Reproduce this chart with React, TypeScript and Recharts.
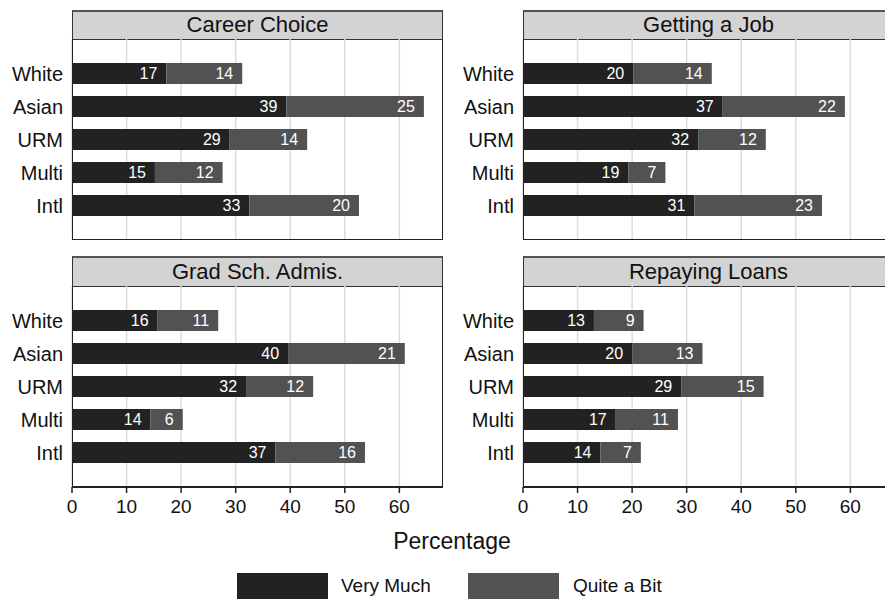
import React from 'react';
import { BarChart, Bar, XAxis, YAxis, CartesianGrid, LabelList } from 'recharts';

const groups = ['White', 'Asian', 'URM', 'Multi', 'Intl'];
const seriesNames = ['Very Much', 'Quite a Bit'];
const panelTitles = ['Career Choice', 'Getting a Job', 'Grad Sch. Admis.', 'Repaying Loans'];

const careerVeryMuch = [17.3, 39.3, 28.9, 15.2, 32.5];
const careerQuiteBit = [13.9, 25.2, 14.2, 12.4, 20.1];
const jobVeryMuch = [20.2, 36.6, 32.1, 19.3, 31.4];
const jobQuiteBit = [14.4, 22.4, 12.4, 6.8, 23.4];
const gradVeryMuch = [15.7, 39.6, 31.9, 14.4, 37.3];
const gradQuiteBit = [11.1, 21.4, 12.3, 5.9, 16.4];
const loansVeryMuch = [13.0, 20.0, 29.0, 17.0, 14.2];
const loansQuiteBit = [9.1, 12.9, 15.1, 11.4, 7.4];

const xTicks = [0, 10, 20, 30, 40, 50, 60];
const xDomain = [0, 68];
const axisTitle = 'Percentage';

const COLOR_VM = '#222222';
const COLOR_QB = '#525252';
const FONT = '"Liberation Sans", Arial, Helvetica, sans-serif';

const build = (vm: number[], qb: number[]) =>
  groups.map((g, i) => ({ group: g, vm: vm[i], qb: qb[i] }));

const panelData = [
  build(careerVeryMuch, careerQuiteBit),
  build(jobVeryMuch, jobQuiteBit),
  build(gradVeryMuch, gradQuiteBit),
  build(loansVeryMuch, loansQuiteBit),
];

const YW = 72;
const PW = 371;

type PanelProps = {
  title: string;
  data: any[];
  plotLeft: number;
  headerTop: number;
  plotTop: number;
  plotBottom: number;
  showAxis: boolean;
  padTop: number;
  padBottom: number;
};

const fmt = (v: any) => Math.round(Number(v));

function Panel({ title, data, plotLeft, headerTop, plotTop, plotBottom, showAxis, padTop, padBottom }: PanelProps) {
  const plotH = plotBottom - plotTop;
  const axisH = showAxis ? 36 : 0;
  return (
    <>
      <div
        style={{
          position: 'absolute',
          left: plotLeft,
          top: headerTop,
          width: PW,
          height: plotTop - headerTop + 1,
          boxSizing: 'border-box',
          background: '#d3d3d3',
          border: '1px solid #333',
          borderTop: '2px solid #555',
          textAlign: 'center',
          fontSize: 22,
          lineHeight: `${plotTop - headerTop - 3}px`,
          color: '#111',
        }}
      >
        {title}
      </div>
      <div style={{ position: 'absolute', left: plotLeft - YW, top: plotTop }}>
        <BarChart
          layout="vertical"
          width={YW + PW}
          height={plotH + axisH}
          data={data}
          margin={{ top: 0, right: 0, bottom: 0, left: 0 }}
          style={{ fontFamily: FONT }}
        >
          <CartesianGrid horizontal={false} vertical={true} stroke="#dcdcdc" strokeWidth={1.5} />
          <XAxis
            type="number"
            domain={xDomain}
            ticks={xTicks}
            hide={!showAxis}
            height={axisH}
            tickSize={6}
            tickMargin={7}
            tick={{ fontSize: 19, fill: '#111' }}
            axisLine={{ stroke: '#222', strokeWidth: 2 }}
            tickLine={{ stroke: '#222', strokeWidth: 1.5 }}
            allowDataOverflow
          />
          <YAxis
            type="category"
            dataKey="group"
            width={YW}
            tickLine={false}
            axisLine={false}
            tickSize={6}
            tickMargin={3}
            tick={{ fontSize: 20, fill: '#111' }}
            padding={{ top: padTop, bottom: padBottom }}
            interval={0}
          />
          <Bar dataKey="vm" name={seriesNames[0]} stackId="s" fill={COLOR_VM} barSize={21} isAnimationActive={false}>
            <LabelList dataKey="vm" position="insideRight" offset={9} fill="#ffffff" fontSize={16} formatter={fmt} />
          </Bar>
          <Bar dataKey="qb" name={seriesNames[1]} stackId="s" fill={COLOR_QB} barSize={21} isAnimationActive={false}>
            <LabelList dataKey="qb" position="insideRight" offset={9} fill="#ffffff" fontSize={16} formatter={fmt} />
          </Bar>
        </BarChart>
      </div>
      <div
        style={{
          position: 'absolute',
          left: plotLeft,
          top: plotTop,
          width: PW,
          height: plotH + 1,
          boxSizing: 'border-box',
          border: '1.5px solid #222',
          borderTop: 'none',
          pointerEvents: 'none',
        }}
      />
    </>
  );
}

export default function App() {
  return (
    <div
      style={{
        position: 'absolute',
        left: 0,
        top: 0,
        width: 885,
        height: 600,
        overflow: 'hidden',
        background: '#fff',
        fontFamily: FONT,
      }}
    >
      <Panel title={panelTitles[0]} data={panelData[0]} plotLeft={72} headerTop={10} plotTop={39} plotBottom={239} showAxis={false} padTop={18} padBottom={17} />
      <Panel title={panelTitles[1]} data={panelData[1]} plotLeft={523} headerTop={10} plotTop={39} plotBottom={239} showAxis={false} padTop={18} padBottom={17} />
      <Panel title={panelTitles[2]} data={panelData[2]} plotLeft={72} headerTop={256} plotTop={286} plotBottom={487} showAxis={true} padTop={18} padBottom={18} />
      <Panel title={panelTitles[3]} data={panelData[3]} plotLeft={523} headerTop={256} plotTop={286} plotBottom={487} showAxis={true} padTop={18} padBottom={18} />
      <div
        style={{
          position: 'absolute',
          left: 352,
          top: 527,
          width: 200,
          textAlign: 'center',
          fontSize: 23,
          lineHeight: '28px',
          color: '#111',
        }}
      >
        {axisTitle}
      </div>
      <div style={{ position: 'absolute', left: 237, top: 573, width: 91, height: 26, background: COLOR_VM }} />
      <div style={{ position: 'absolute', left: 341, top: 573, height: 26, lineHeight: '26px', fontSize: 19, color: '#111' }}>
        {seriesNames[0]}
      </div>
      <div style={{ position: 'absolute', left: 468, top: 573, width: 91, height: 26, background: COLOR_QB }} />
      <div style={{ position: 'absolute', left: 573, top: 573, height: 26, lineHeight: '26px', fontSize: 19, color: '#111' }}>
        {seriesNames[1]}
      </div>
    </div>
  );
}
